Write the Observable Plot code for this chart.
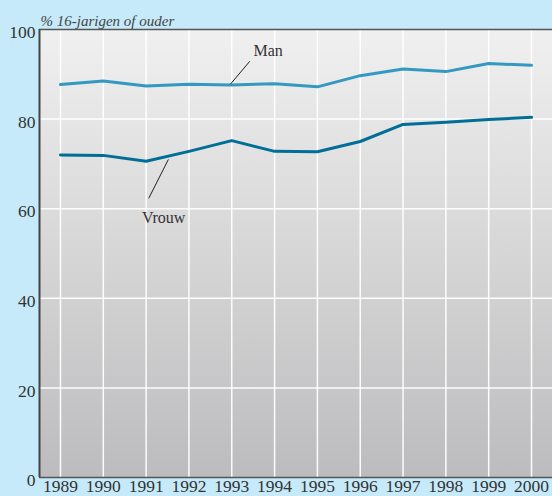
<!DOCTYPE html>
<html>
<head>
<meta charset="utf-8">
<script src="https://cdn.jsdelivr.net/npm/d3@7"></script>
<script src="https://cdn.jsdelivr.net/npm/@observablehq/plot@0.6"></script>
<style>
  html, body { margin: 0; padding: 0; background: #c6eaf9; }
  #chart svg { display: block; }
</style>
</head>
<body>
<div id="chart"></div>
<script>
const years = [1989, 1990, 1991, 1992, 1993, 1994, 1995, 1996, 1997, 1998, 1999, 2000];
const man   = [87.7, 88.5, 87.4, 87.8, 87.6, 87.9, 87.2, 89.7, 91.2, 90.6, 92.4, 92.0];
const vrouw = [72.0, 71.9, 70.6, 72.8, 75.2, 72.8, 72.7, 75.0, 78.8, 79.3, 79.9, 80.4];
const yTicks = [0, 20, 40, 60, 80, 100];
const yTitle = "% 16-jarigen of ouder";
const seriesLabels = [
  {name: "Man",   x: 1993.85, y: 95.2, lx1: 1992.97, ly1: 87.8, lx2: 1993.42, ly2: 92.9},
  {name: "Vrouw", x: 1991.41, y: 58.0, lx1: 1991.52, ly1: 71.0, lx2: 1991.06, ly2: 62.3}
];
const colors = {Man: "#3399c0", Vrouw: "#006e96"};

const rows = [
  ...years.map((yr, i) => ({year: yr, value: man[i], series: "Man"})),
  ...years.map((yr, i) => ({year: yr, value: vrouw[i], series: "Vrouw"}))
];

const font = "Liberation Serif";

const chart = Plot.plot({
  width: 552,
  height: 496,
  marginLeft: 39,
  marginRight: 0,
  marginTop: 29,
  marginBottom: 19,
  style: {background: "#c6eaf9", fontFamily: font, fontSize: "17px", color: "#333"},
  x: {domain: [1988.51, 2000.49], axis: null},
  y: {domain: [0, 100], axis: null},
  marks: [
    Plot.frame({fill: "url(#bgGrad)", stroke: "none"}),
    Plot.gridX(years, {stroke: "white", strokeOpacity: 0.95, strokeWidth: 1.5}),
    Plot.gridY([20, 40, 60, 80], {stroke: "white", strokeOpacity: 0.95, strokeWidth: 1.5}),
    Plot.ruleY([0, 100], {stroke: "#555", strokeWidth: 1.5}),
    Plot.ruleX([1988.51], {stroke: "#444", strokeWidth: 2}),
    Plot.text(years, {x: d => d, frameAnchor: "bottom", dy: 14, text: d => String(d), fontSize: 17.5, fill: "#333", fontFamily: font}),
    Plot.text(yTicks, {y: d => d, frameAnchor: "left", dx: -4, dy: 3, textAnchor: "end", text: d => String(d), fontSize: 17.5, fill: "#333", fontFamily: font}),
    Plot.line(rows, {x: "year", y: "value", z: "series", stroke: d => colors[d.series], strokeWidth: 3, strokeLinejoin: "round"}),
    Plot.link(seriesLabels, {x1: "lx1", y1: "ly1", x2: "lx2", y2: "ly2", stroke: "#222", strokeWidth: 1}),
    Plot.text(seriesLabels, {x: "x", y: "y", text: "name", fontSize: 16, fill: "#333", fontFamily: font}),
    Plot.text([yTitle], {frameAnchor: "top-left", dx: 1, dy: -14, textAnchor: "start", fontSize: 15, fontStyle: "italic", fill: "#444", fontFamily: font})
  ]
});

const svgNS = "http://www.w3.org/2000/svg";
const defs = document.createElementNS(svgNS, "defs");
const grad = document.createElementNS(svgNS, "linearGradient");
grad.setAttribute("id", "bgGrad");
grad.setAttribute("x1", "0"); grad.setAttribute("y1", "0");
grad.setAttribute("x2", "0"); grad.setAttribute("y2", "1");
[["0%", "#f0f0f0"], ["100%", "#bcbcbe"]].forEach(([o, c]) => {
  const s = document.createElementNS(svgNS, "stop");
  s.setAttribute("offset", o);
  s.setAttribute("stop-color", c);
  grad.appendChild(s);
});
defs.appendChild(grad);
chart.insertBefore(defs, chart.firstChild);

document.getElementById("chart").appendChild(chart);
</script>
</body>
</html>
